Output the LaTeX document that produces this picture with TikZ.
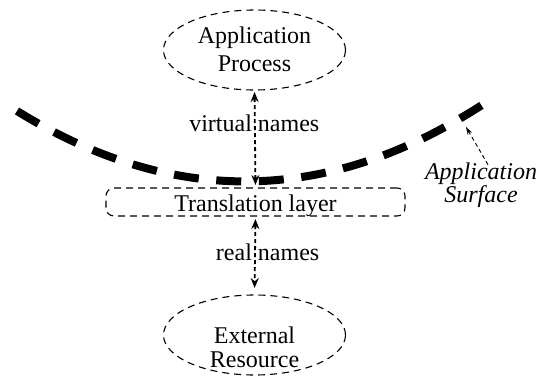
\documentclass[tikz,border=0pt]{standalone}
\usepackage{fontspec}
\setmainfont{Liberation Serif}
\usetikzlibrary{shapes.geometric,arrows.meta}
\begin{document}
\begin{tikzpicture}[x=1pt,y=-1pt,
  every node/.style={inner sep=0pt, outer sep=0pt},
  txt/.style={font=\fontsize{24}{24}\selectfont, align=center},
  thindash/.style={line width=1.1pt, dash pattern=on 7pt off 5pt},
  oval/.style={draw, thindash, ellipse, minimum width=182pt, minimum height=80pt},
  layerbox/.style={draw, thindash, rounded corners=8pt, minimum width=299pt, minimum height=28pt},
  namearrow/.style={line width=1.8pt, dash pattern=on 4pt off 3pt,
     {Stealth[length=10pt,width=8pt]}-{Stealth[length=10pt,width=8pt]}},
  surfarrow/.style={line width=0.9pt, dash pattern=on 4pt off 3pt,
     -{Stealth[length=8pt,width=5pt]}},
  surface/.style={line width=8pt, dash pattern=on 25pt off 17.6pt}
]
\useasboundingbox (0,0) rectangle (546,377);
% shapes
\node[oval] (app) at (254.5,50) {};
\node[oval] (ext) at (254.5,335) {};
\node[layerbox] (trans) at (255.5,202) {};
% texts
\node[txt] (appt) at (254.5,49.6) {Application\\[4pt]Process};
\node[txt] (extt) at (254.5,346.8) {External\\Resource};
\node[txt] (transt) at (255.5,206) {Translation layer};
\node[txt] (vn) at (254.3,123.5) {virtual names};
\node[txt] (rn) at (267.6,251.8) {real names};
\node[txt, font=\fontsize{24}{24}\selectfont\itshape] (surf) at (481,185.2) {Application\\[-0.7pt]Surface};
% application surface curve
\coordinate (cl) at (17,111);
\coordinate (cr) at (482,105);
\draw[surface] (cl) .. controls (172,206.7) and (327,205) .. (cr);
\coordinate (sfc) at (466,127);
% connectors
\draw[namearrow, shorten <=2pt, shorten >=3pt] (app.south) -- (trans.north);
\draw[namearrow, shorten <=3pt, shorten >=7pt] (trans.south) -- (ext.north);
\draw[surfarrow] ([xshift=7pt,yshift=-2pt]surf.north) -- (sfc);
\end{tikzpicture}
\end{document}
